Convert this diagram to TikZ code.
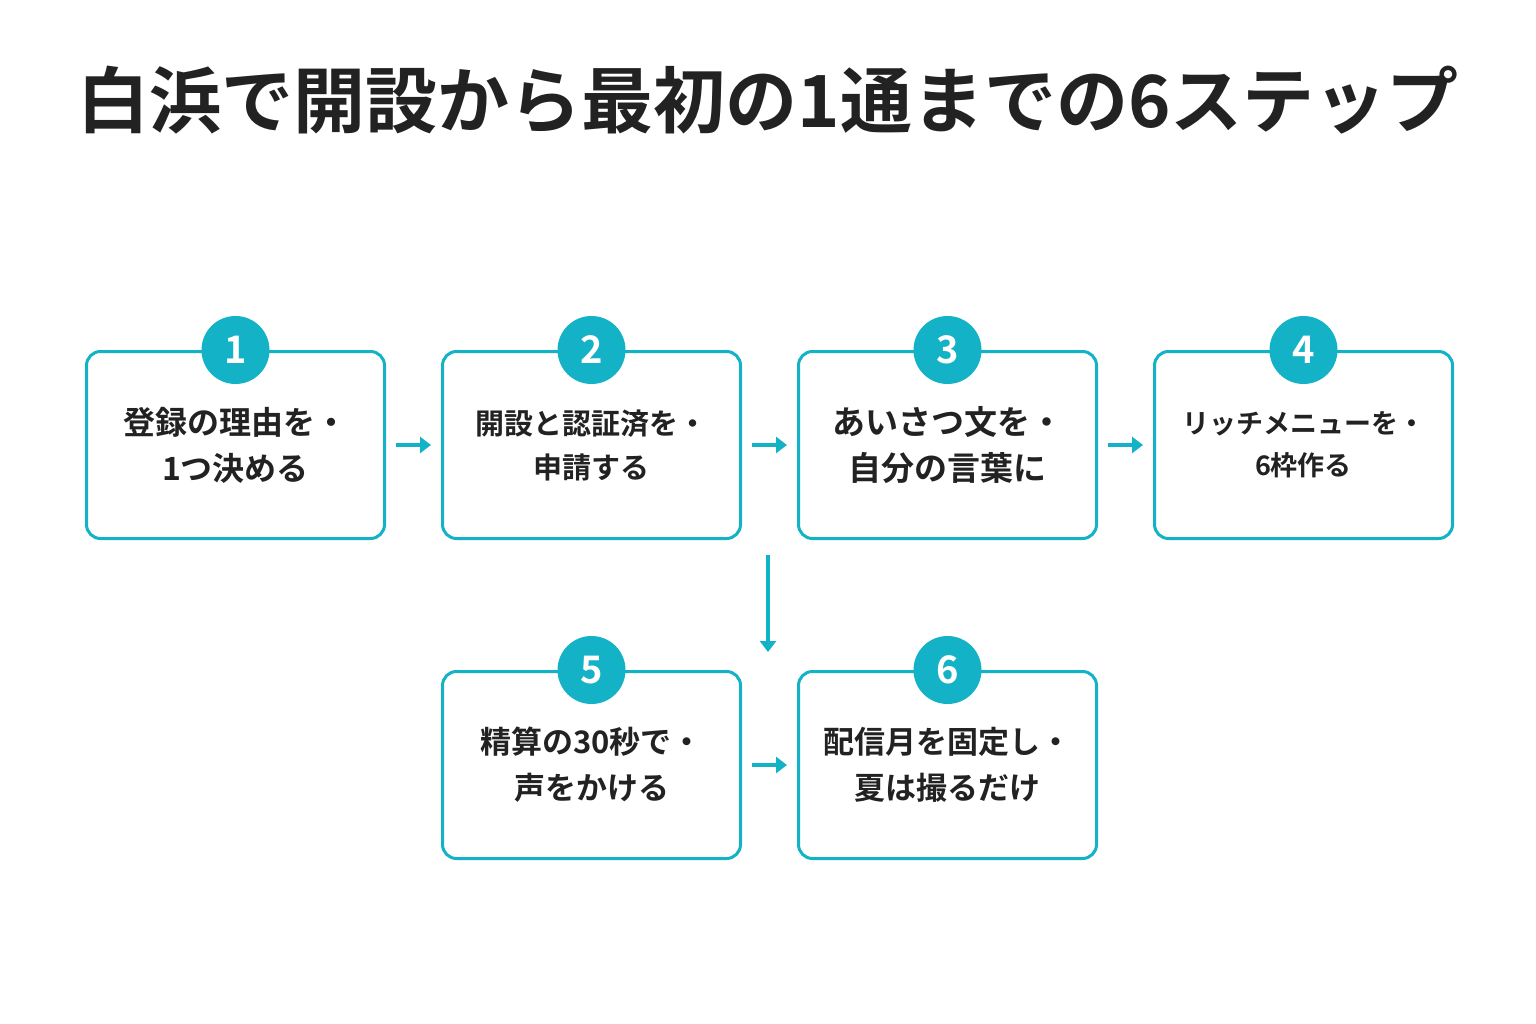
\documentclass[tikz,border=0pt]{standalone}
\usepackage{fontspec}
\newfontfamily\cjk{Noto Sans CJK JP}[BoldFont={Noto Sans CJK JP Bold}]
\usetikzlibrary{arrows.meta}
\definecolor{tq}{HTML}{13B2C6}
\definecolor{ink}{HTML}{222222}
\begin{document}
\begin{tikzpicture}[x=1pt,y=-1pt,
 box/.style={draw=tq,line width=3pt,rounded corners=14pt,fill=white,minimum width=298pt,minimum height=187pt,anchor=north west,align=center,text=ink,font=\cjk\bfseries},
 num/.style={circle,fill=tq,minimum size=68pt,inner sep=0pt,text=white,font=\cjk\bfseries\fontsize{38}{38}\selectfont},
 arr/.style={draw=tq,line width=3.5pt,-{Triangle[length=11pt,width=16pt]}}]
\useasboundingbox (0,0) rectangle (1536,1024);
\node[text=ink,font=\cjk\bfseries\fontsize{72}{72}\selectfont] (title) at (768,100) {白浜で開設から最初の1通までの6ステップ};
\node[box,font=\cjk\bfseries\fontsize{32}{46}\selectfont] (b1) at (85,350) {登録の理由を・\\1つ決める};
\node[box,font=\cjk\bfseries\fontsize{29}{44}\selectfont] (b2) at (441,350) {開設と認証済を・\\申請する};
\node[box,font=\cjk\bfseries\fontsize{33}{46}\selectfont] (b3) at (797,350) {あいさつ文を・\\自分の言葉に};
\node[box,font=\cjk\bfseries\fontsize{27}{42}\selectfont] (b4) at (1153,350) {リッチメニューを・\\6枠作る};
\node[box,font=\cjk\bfseries\fontsize{31}{46}\selectfont] (b5) at (441,670) {精算の30秒で・\\声をかける};
\node[box,font=\cjk\bfseries\fontsize{31}{46}\selectfont] (b6) at (797,670) {配信月を固定し・\\夏は撮るだけ};
\foreach \b/\n in {b1/1,b2/2,b3/3,b4/4,b5/5,b6/6}{
 \node[num] (n\n) at (\b.north) {\n};
}
\draw[arr] ([xshift=10pt]b1.east) -- ([xshift=-10pt]b2.west);
\draw[arr] ([xshift=10pt]b2.east) -- ([xshift=-10pt]b3.west);
\draw[arr] ([xshift=10pt]b3.east) -- ([xshift=-10pt]b4.west);
\coordinate (vs) at (768,555);
\coordinate (ve) at (768,652);
\draw[arr] (vs) -- (ve);
\draw[arr] ([xshift=10pt]b5.east) -- ([xshift=-10pt]b6.west);
\end{tikzpicture}
\end{document}
